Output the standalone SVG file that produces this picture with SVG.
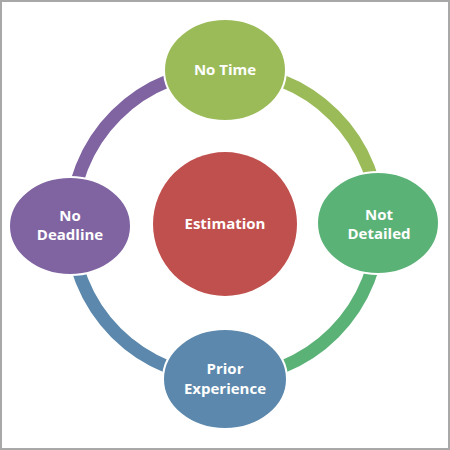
<svg xmlns="http://www.w3.org/2000/svg" width="450" height="450" viewBox="0 0 450 450">
<style>
.arc{fill:none;stroke-width:13;stroke-linecap:butt}
.node{stroke:#fff;stroke-width:2}
.lbl{fill:#fff;font-family:"Open Sans","Liberation Sans",sans-serif;font-weight:700;font-size:15px;text-anchor:middle}
</style>
<rect x="1" y="1" width="448" height="448" fill="#fff" stroke="#A8A8A8" stroke-width="2"/>
<g id="connectors">
<path class="arc" stroke="#9BBB59" d="M225 70 A154 154 0 0 1 379 224"/>
<path class="arc" stroke="#5BB277" d="M379 224 A154 154 0 0 1 225 378"/>
<path class="arc" stroke="#5B88AC" d="M225 378 A154 154 0 0 1 71 224"/>
<path class="arc" stroke="#8064A2" d="M71 224 A154 154 0 0 1 225 70"/>
</g>
<g id="estimation">
<circle cx="225" cy="224" r="72" fill="#C0504D"/>
<text class="lbl" x="225" y="229">Estimation</text>
</g>
<g id="no-time">
<ellipse class="node" cx="225" cy="70" rx="61" ry="51" fill="#9BBB59"/>
<text class="lbl" x="225" y="75">No Time</text>
</g>
<g id="not-detailed">
<ellipse class="node" cx="378" cy="223" rx="61" ry="51" fill="#5BB277"/>
<text class="lbl" x="379" y="220">Not</text>
<text class="lbl" x="379" y="239">Detailed</text>
</g>
<g id="prior-experience">
<ellipse class="node" cx="225" cy="379" rx="62" ry="50" fill="#5B88AC"/>
<text class="lbl" x="225" y="374">Prior</text>
<text class="lbl" x="225" y="394">Experience</text>
</g>
<g id="no-deadline">
<ellipse class="node" cx="70" cy="226" rx="61" ry="49" fill="#8064A2"/>
<text class="lbl" x="70" y="221">No</text>
<text class="lbl" x="70" y="240">Deadline</text>
</g>
</svg>
